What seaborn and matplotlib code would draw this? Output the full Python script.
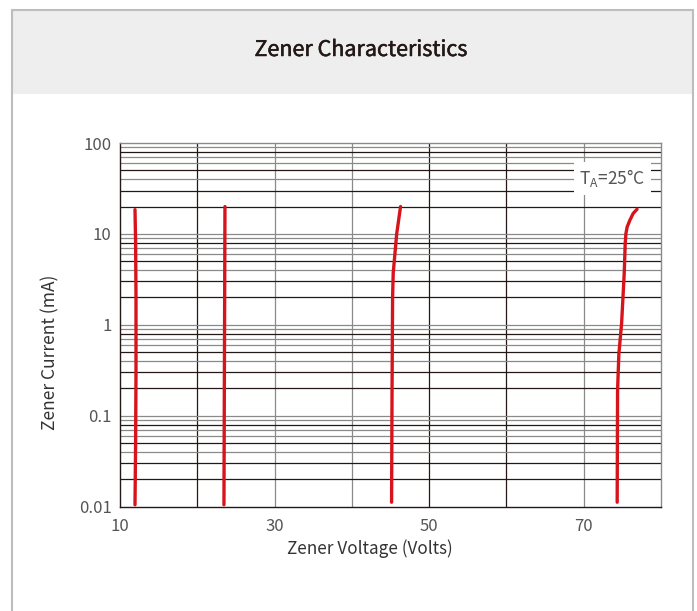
import numpy as np
import pandas as pd
import matplotlib
matplotlib.use("Agg")
import matplotlib.pyplot as plt
import matplotlib.patheffects as pe
from matplotlib.lines import Line2D
from matplotlib.patches import Rectangle
import seaborn as sns

# ---- data ----
c1_v = [11.94, 12.02, 12.07, 12.07, 12.02, 11.94]
c1_i = [18.5, 8.0, 2.0, 0.3, 0.05, 0.0105]
c2_v = [23.58, 23.55, 23.50, 23.45]
c2_i = [20.0, 3.0, 0.2, 0.0105]
c3_v = [46.3, 45.8, 45.35, 45.27, 45.2, 45.14]
c3_i = [20.0, 10.0, 3.7, 2.0, 0.19, 0.0112]
c4_v = [76.9, 76.4, 75.98, 75.63, 75.46, 75.37, 75.24, 74.9, 74.55, 74.38, 74.33]
c4_i = [18.7, 16.8, 14.2, 12.0, 10.1, 7.86, 3.67, 1.03, 0.483, 0.19, 0.0112]

x_ticks = [10, 30, 50, 70]
y_ticks = [0.01, 0.1, 1, 10, 100]
y_tick_labels = ["0.01", "0.1", "1", "10", "100"]

frames = []
for name, v, i in [("c1", c1_v, c1_i), ("c2", c2_v, c2_i),
                   ("c3", c3_v, c3_i), ("c4", c4_v, c4_i)]:
    frames.append(pd.DataFrame({"curve": name, "V": v, "I": i,
                                "order": range(len(v))}))
df = pd.concat(frames, ignore_index=True)

sns.set_style("white")
plt.rcParams["font.family"] = ["Noto Sans CJK SC", "DejaVu Sans"]

W, H = 697, 611
fig = plt.figure(figsize=(W / 100, H / 100), dpi=100)
fig.patch.set_facecolor("white")

# header band + frame
fig.patches.append(Rectangle((12 / W, 1 - 94 / H), (692.5 - 12) / W, (94 - 10) / H,
                             transform=fig.transFigure, facecolor="#eeeeee",
                             edgecolor="none", zorder=0))
border = "#bdbdbd"
fig.lines.append(Line2D([12 / W, 12 / W], [0, 1 - 10 / H], transform=fig.transFigure,
                        color=border, lw=1.5))
fig.lines.append(Line2D([692.5 / W, 692.5 / W], [0, 1 - 10 / H], transform=fig.transFigure,
                        color=border, lw=1.5))
fig.lines.append(Line2D([12 / W, 692.5 / W], [1 - 10 / H, 1 - 10 / H],
                        transform=fig.transFigure, color=border, lw=1.5))
fig.text(361 / W, 1 - 50 / H, "Zener Characteristics", ha="center", va="center",
         fontsize=15.5, color="#231815",
         path_effects=[pe.withStroke(linewidth=0.35, foreground="#231815")])

ax = fig.add_axes([120 / W, 1 - 506.7 / H, (661 - 120) / W, (506.7 - 143) / H])
ax.set_facecolor("white")
ax.set_yscale("log")
ax.set_xlim(10, 80)
ax.set_ylim(0.01, 100)

dark = "#231815"
gray = "#8a8a8a"
# vertical grid
vcols = {20: dark, 30: gray, 40: gray, 50: dark, 60: dark, 70: gray}
for xv, c in vcols.items():
    ax.axvline(xv, color=c, lw=0.9, zorder=1)
# horizontal grid
for dec in [0.01, 0.1, 1, 10]:
    for m in range(2, 10):
        c = dark if m in (2, 3, 5, 8) else gray
        ax.axhline(dec * m, color=c, lw=0.9, zorder=1)
    if dec > 0.01:
        ax.axhline(dec, color=gray, lw=0.9, zorder=1)

for name in ["c1", "c2", "c3", "c4"]:
    sub = df[df.curve == name]
    sns.lineplot(data=sub, x="V", y="I", sort=False, estimator=None,
                 color="#d7141c", lw=2.4, ax=ax, zorder=3, legend=False)

ax.text(73.7, 41, r"T$_\mathregular{A}$=25°C", ha="center", va="center",
        fontsize=12.5, color="#555555", zorder=4,
        bbox=dict(facecolor="white", edgecolor="none", pad=4))

ax.set_xticks(x_ticks)
ax.set_xticklabels([str(t) for t in x_ticks])
ax.set_yticks(y_ticks)
ax.set_yticklabels(y_tick_labels)
ax.yaxis.set_minor_locator(matplotlib.ticker.NullLocator())
ax.tick_params(axis="both", length=0, labelsize=12, labelcolor="#555555")
ax.tick_params(axis="x", pad=8)
ax.tick_params(axis="y", pad=6)
ax.grid(False)

ax.set_xlabel("Zener Voltage (Volts)", fontsize=12.3, color="#333333")
ax.set_ylabel("Zener Current (mA)", fontsize=12.5, color="#333333")
ax.xaxis.set_label_coords((370 - 120) / 541, (506.7 - 549) / 363.7)
ax.yaxis.set_label_coords((50 - 120) / 541, (506.7 - 352) / 363.7)
ax.xaxis.label.set_va("center")
ax.yaxis.label.set_va("center")

for s in ["left", "bottom"]:
    ax.spines[s].set_color(dark)
    ax.spines[s].set_linewidth(1.0)
for s in ["top", "right"]:
    ax.spines[s].set_visible(True)
    ax.spines[s].set_color(gray)
    ax.spines[s].set_linewidth(1.0)

fig.savefig("out.png", dpi=100)
